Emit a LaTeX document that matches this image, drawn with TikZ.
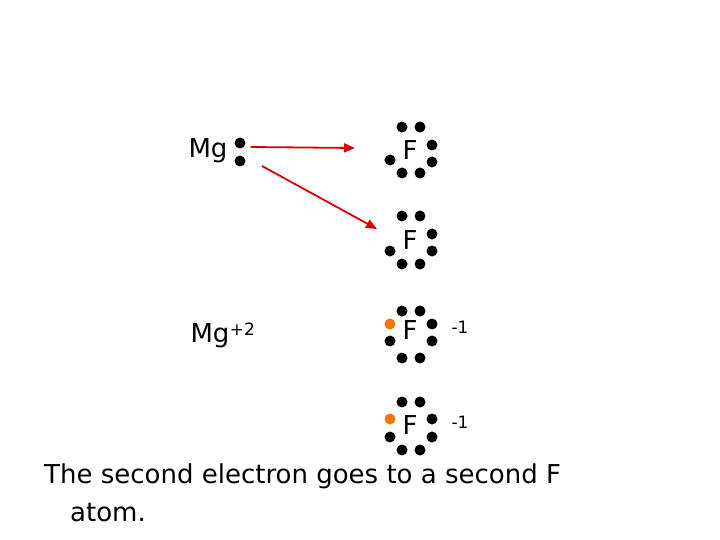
\documentclass[tikz,border=0pt]{standalone}
\usepackage{fontspec}
\setmainfont{DejaVu Sans}
\usetikzlibrary{arrows.meta}
\begin{document}
\begin{tikzpicture}[x=1pt,y=-1pt,
  dot/.style={circle,fill=black,inner sep=0pt,minimum size=11pt},
  odot/.style={circle,fill=orange!90!red,inner sep=0pt,minimum size=11pt},
  lbl/.style={inner sep=0pt,font=\fontsize{26}{30}\selectfont},
  chg/.style={inner sep=0pt,font=\fontsize{17}{20}\selectfont},
  arr/.style={red!85!black,line width=1.8pt,-{Triangle[length=11pt,width=9pt]}}]
\useasboundingbox[fill=white] (0,0) rectangle (720,540);
% Mg
\node[lbl] (mg) at (208,151) {Mg};
\node[dot] (m1) at (240,143) {}; \node[dot] (m2) at (240,161) {};
% F1
\node[lbl] (f1) at (410,150) {F};
\foreach \p/\x/\y in {a/402/127,b/420/127,c/432/145,d/432/162,e/402/173,f/420/173,g/390/160}
  \node[dot] (f1\p) at (\x,\y) {};
% F2
\node[lbl] (f2) at (410,240) {F};
\foreach \p/\x/\y in {a/402/216,b/420/216,c/432/234,d/432/251,e/402/264,f/420/264,g/390/251}
  \node[dot] (f2\p) at (\x,\y) {};
\draw[arr] (m1.east)+(5,4) coordinate (s1) -- (355,148) coordinate (t1);
\draw[arr] (262,166) coordinate (s2) -- (377,229) coordinate (t2);
% Mg+2
\node[lbl] (mg2) at (210,336) {Mg};
\node[chg,anchor=west] (mgc) at (mg2.north east) [yshift=-6pt] {+2};
% F3
\node[lbl] (f3) at (410,330) {F};
\foreach \p/\x/\y in {a/402/311,b/420/311,c/432/324,d/432/341,e/402/358,f/420/358,g/390/341}
  \node[dot] (f3\p) at (\x,\y) {};
\node[odot] (f3o) at (390,324) {};
\node[chg] (c3) at (460,327) {-1};
% F4
\node[lbl] (f4) at (410,425) {F};
\foreach \p/\x/\y in {a/402/402,b/420/402,c/432/419,d/432/437,e/402/450,f/420/450,g/390/437}
  \node[dot] (f4\p) at (\x,\y) {};
\node[odot] (f4o) at (390,419) {};
\node[chg] (c4) at (460,422) {-1};
% caption
\node[lbl,anchor=base west] (t1t) at (44,483) {The second electron goes to a second F};
\node[lbl,anchor=base west] (t2t) at (70,521) {atom.};
\end{tikzpicture}
\end{document}
